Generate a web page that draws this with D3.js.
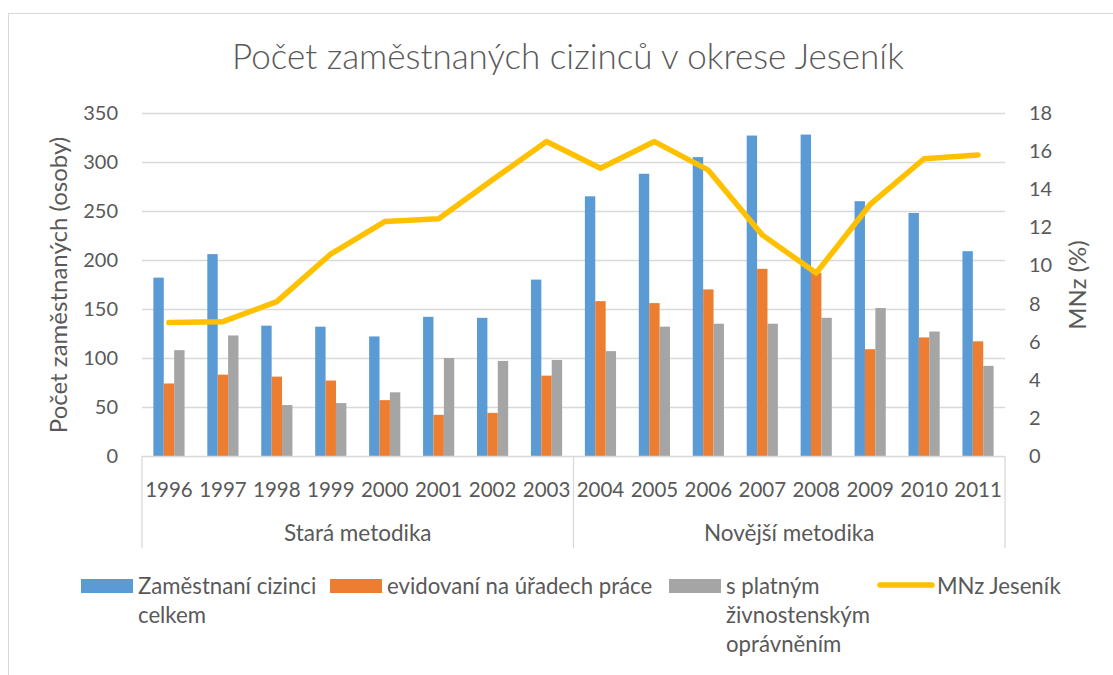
<!DOCTYPE html>
<html>
<head>
<meta charset="utf-8">
<script src="https://cdn.jsdelivr.net/npm/d3@7"></script>
<style>
  body { margin: 0; background: #fff; }
  svg text { font-family: Lato, "Open Sans", sans-serif; fill: #595959; }
</style>
</head>
<body>
<svg width="1113" height="675"></svg>
<script>
var years = ["1996","1997","1998","1999","2000","2001","2002","2003",
             "2004","2005","2006","2007","2008","2009","2010","2011"];
var groups = ["Stará metodika", "Novější metodika"];
var celkem = [182, 206, 133, 132, 122, 142, 141, 180, 265, 288, 305, 327, 328, 260, 248, 209];
var evidovani = [74, 83, 81, 77, 57, 42, 44, 82, 158, 156, 170, 191, 187, 109, 121, 117];
var zivnost = [108, 123, 52, 54, 65, 100, 97, 98, 107, 132, 135, 135, 141, 151, 127, 92];
var mnz = [7.0, 7.05, 8.1, 10.6, 12.3, 12.45, 14.5, 16.5, 15.1, 16.5, 15.0, 11.6, 9.6, 13.2, 15.6, 15.8];
var leftTicks = [0, 50, 100, 150, 200, 250, 300, 350];
var rightTicks = [0, 2, 4, 6, 8, 10, 12, 14, 16, 18];

var barSeries = [
  {name: ["Zaměstnaní cizinci", "celkem"], values: celkem, color: "#5B9BD5"},
  {name: ["evidovaní na úřadech práce"], values: evidovani, color: "#ED7D31"},
  {name: ["s platným", "živnostenským", "oprávněním"], values: zivnost, color: "#A5A5A5"}
];

var svg = d3.select("svg"),
	plot = {left: 142, right: 1005, top: 113, bottom: 456};

// chart frame
svg.append("rect")
	.attr("x", 8.5).attr("y", 13.5)
	.attr("width", 1200).attr("height", 800)
	.attr("fill", "none")
	.attr("stroke", "#d9d9d9");

svg.append("text")
	.attr("x", 568).attr("y", 69)
	.attr("text-anchor", "middle")
	.style("font-size", "35px")
	.style("font-weight", 300)
	.text("Počet zaměstnaných cizinců v okrese Jeseník");

var x0 = d3.scaleBand()
	.domain(years)
	.range([plot.left, plot.right]);

var groupWidth = x0.bandwidth() * 3 / 5.19;   // gap width 219 %
var x1 = d3.scaleBand()
	.domain(d3.range(barSeries.length))
	.range([0, groupWidth]);

var y = d3.scaleLinear().domain([0, 350]).range([plot.bottom, plot.top]);
var y2 = d3.scaleLinear().domain([0, 18]).range([plot.bottom, plot.top]);

// gridlines
svg.append("g")
	.selectAll("line")
	.data(leftTicks.slice(1))
	.enter().append("line")
	.attr("x1", plot.left).attr("x2", plot.right)
	.attr("y1", function(d) { return Math.round(y(d)) + 0.5; })
	.attr("y2", function(d) { return Math.round(y(d)) + 0.5; })
	.attr("stroke", "#d9d9d9")
	.attr("stroke-width", 1.3);

// left axis labels
svg.append("g")
	.selectAll("text")
	.data(leftTicks)
	.enter().append("text")
	.attr("x", 118)
	.attr("y", function(d) { return y(d) + 7; })
	.attr("text-anchor", "end")
	.style("font-size", "20px")
	.text(function(d) { return d; });

// right axis labels
svg.append("g")
	.selectAll("text")
	.data(rightTicks)
	.enter().append("text")
	.attr("x", 1029)
	.attr("y", function(d) { return y2(d) + 7; })
	.style("font-size", "20px")
	.text(function(d) { return d; });

svg.append("text")
	.attr("transform", "translate(67,285) rotate(-90)")
	.attr("text-anchor", "middle")
	.style("font-size", "24px")
	.text("Počet zaměstnaných (osoby)");

svg.append("text")
	.attr("transform", "translate(1086,285) rotate(-90)")
	.attr("text-anchor", "middle")
	.style("font-size", "24px")
	.text("MNz (%)");

// bars
var offset = (x0.bandwidth() - groupWidth) / 2;
barSeries.forEach(function(s, si) {
	svg.append("g")
		.selectAll("rect")
		.data(s.values)
		.enter().append("rect")
		.attr("x", function(d, i) { return x0(years[i]) + offset + x1(si); })
		.attr("y", function(d) { return y(d); })
		.attr("width", x1.bandwidth())
		.attr("height", function(d) { return y(0) - y(d); })
		.attr("fill", s.color);
});

// category axis
var axisG = svg.append("g").attr("stroke", "#d9d9d9").attr("stroke-width", 1.3);
axisG.append("line")
	.attr("x1", plot.left).attr("x2", plot.right)
	.attr("y1", plot.bottom + 0.5).attr("y2", plot.bottom + 0.5);
axisG.selectAll(".sep")
	.data([0, 8, 16])
	.enter().append("line")
	.attr("x1", function(d) { return plot.left + d * x0.step(); })
	.attr("x2", function(d) { return plot.left + d * x0.step(); })
	.attr("y1", plot.bottom).attr("y2", 548);

svg.append("g")
	.selectAll("text")
	.data(years)
	.enter().append("text")
	.attr("x", function(d) { return x0(d) + x0.bandwidth() / 2; })
	.attr("y", 497)
	.attr("text-anchor", "middle")
	.style("font-size", "20.5px")
	.text(function(d) { return d; });

svg.append("g")
	.selectAll("text")
	.data(groups)
	.enter().append("text")
	.attr("x", function(d, i) { return plot.left + (i * 8 + 4) * x0.step(); })
	.attr("y", 541)
	.attr("text-anchor", "middle")
	.style("font-size", "22.5px")
	.text(function(d) { return d; });

// MNz line
var line = d3.line()
	.x(function(d, i) { return x0(years[i]) + x0.bandwidth() / 2; })
	.y(function(d) { return y2(d); });

svg.append("path")
	.datum(mnz)
	.attr("fill", "none")
	.attr("stroke", "#FFC000")
	.attr("stroke-width", 5.5)
	.attr("stroke-linejoin", "round")
	.attr("stroke-linecap", "round")
	.attr("d", line);

// legend
var legendX = [81, 330, 669];
barSeries.forEach(function(s, si) {
	svg.append("rect")
		.attr("x", legendX[si]).attr("y", 579)
		.attr("width", 52).attr("height", 14)
		.attr("fill", s.color);
	var t = svg.append("text")
		.attr("x", legendX[si] + 57).attr("y", 594)
		.style("font-size", "22.2px");
	s.name.forEach(function(n, ni) {
		t.append("tspan")
			.attr("x", legendX[si] + 57)
			.attr("dy", ni ? 29 : 0)
			.text(n);
	});
});
svg.append("line")
	.attr("x1", 880).attr("x2", 932)
	.attr("y1", 585).attr("y2", 585)
	.attr("stroke", "#FFC000")
	.attr("stroke-width", 5.5)
	.attr("stroke-linecap", "round");
svg.append("text")
	.attr("x", 937).attr("y", 594)
	.style("font-size", "22.2px")
	.text("MNz Jeseník");
</script>
</body>
</html>
